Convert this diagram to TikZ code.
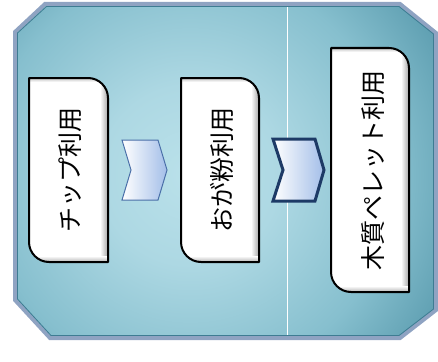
\documentclass[tikz,border=0pt]{standalone}
\usepackage{fontspec}
\newfontfamily\jpfont{Noto Sans CJK JP}
\definecolor{bgA}{HTML}{BAE1EA}
\definecolor{bgA2}{HTML}{ADD8E3}
\definecolor{bgB}{HTML}{86BFCE}
\definecolor{bgC}{HTML}{4C90A4}
\definecolor{rimC}{HTML}{8FA3C2}
\definecolor{rimIn}{HTML}{3E7C92}
\definecolor{chevA}{HTML}{FFFFFF}
\definecolor{chevB}{HTML}{A3BEE8}
\definecolor{chevLine}{HTML}{4A6FA8}
\definecolor{chevDark}{HTML}{1D3A66}
\pgfdeclareradialshading{bgsh}{\pgfpoint{0bp}{0bp}}{color(0bp)=(bgA); color(7bp)=(bgA2); color(16bp)=(bgB); color(25bp)=(bgC); color(50bp)=(bgC)}
\newcommand\stepcard[5]{%
  \fill[white] (#1,#2) -- ({#3-20},#2) .. controls ({#3-9},#2) and (#3,{#2+9}) .. (#3,{#2+20}) -- (#3,#4) -- ({#1+20},#4) .. controls ({#1+9},#4) and (#1,{#4-9}) .. (#1,{#4-20}) -- cycle;
  \begin{scope}
    \clip (#1,#2) -- ({#3-20},#2) .. controls ({#3-9},#2) and (#3,{#2+9}) .. (#3,{#2+20}) -- (#3,#4) -- ({#1+20},#4) .. controls ({#1+9},#4) and (#1,{#4-9}) .. (#1,{#4-20}) -- cycle;
    \shade[left color=white, right color=gray!70] ({#3-8},#2) rectangle (#3,#4);
    \shade[top color=white, bottom color=gray!60] (#1,{#4-6}) rectangle (#3,#4);
    \shade[top color=gray!45, bottom color=white] (#1,#2) rectangle (#3,{#2+4});
  \end{scope}
  \draw[cardline] (#1,#2) -- ({#3-20},#2) .. controls ({#3-9},#2) and (#3,{#2+9}) .. (#3,{#2+20}) -- (#3,#4) -- ({#1+20},#4) .. controls ({#1+9},#4) and (#1,{#4-9}) .. (#1,{#4-20}) -- cycle;
}
\tikzset{
  cardline/.style={black, line width=2pt, line join=round},
  cardtext/.style={font=\jpfont\fontsize{25}{25}\selectfont, rotate=90, inner sep=0pt, text=black},
  chevron/.style={left color=chevA, right color=chevB, line join=miter},
}
\begin{document}
\begin{tikzpicture}[x=1pt,y=-1pt]
\useasboundingbox (0,0) rectangle (438,361);
% background octagon
\begin{scope}
  \clip (45,4) -- (400,4) -- (436,33) -- (436,310) -- (400,338) -- (50,338) -- (15,300) -- (15,32) -- cycle;
  \shade[shading=bgsh] (190,175) circle (320);
  \draw[white, line width=1pt] (287,0) -- (287,361);
\end{scope}
\draw[rimC, line width=4pt, line join=miter] (45,4) -- (400,4) -- (436,33) -- (436,310) -- (400,338) -- (50,338) -- (15,300) -- (15,32) -- cycle;
\draw[rimIn, line width=0.8pt, line join=miter] (46.5,6.5) -- (399,6.5) -- (433.5,34) -- (433.5,309) -- (399,335.5) -- (51,335.5) -- (17.5,299) -- (17.5,33) -- cycle;
% cards
\stepcard{29}{78}{108}{262}{c1}
\stepcard{181}{78}{259}{262}{c2}
\stepcard{331}{48}{409}{292}{c3}
\node[cardtext] (t1) at (70,170) {チップ利用};
\node[cardtext] (t2) at (222,170) {おが粉利用};
\node[cardtext] (t3) at (373,170) {木質ペレット利用};
% chevrons
\draw[chevron, draw=chevLine, line width=1pt] (122,140) -- (158,140) -- (167,170) -- (158,200) -- (122,200) -- (131,170) -- cycle;
\draw[chevron, draw=chevDark, line width=3pt] (273,139) -- (315,139) -- (324,170) -- (315,201) -- (273,201) -- (283,170) -- cycle;
\end{tikzpicture}
\end{document}
